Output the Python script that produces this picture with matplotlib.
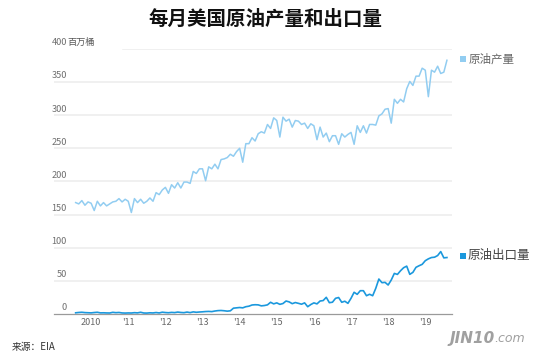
import matplotlib
matplotlib.use('Agg')
import matplotlib.pyplot as plt
from matplotlib.patches import Rectangle
import pandas as pd

plt.rcParams['font.family'] = ['Noto Sans CJK SC', 'DejaVu Sans']

# meses: ago 2009 - ago 2019 (millones de barriles por mes)
meses = pd.date_range('2009-08-01', periods=121, freq='MS')

produccion = [
    168, 166, 171, 164, 169,
    167, 156, 170, 163, 168, 163, 166, 169, 170, 174, 169, 173,
    170, 153, 174, 168, 173, 167, 170, 175, 170, 183, 180, 187,
    191, 182, 195, 190, 198, 190, 199, 199, 197, 215, 212, 219,
    219, 201, 222, 219, 226, 219, 233, 234, 236, 241, 238, 245,
    250, 229, 257, 257, 266, 261, 272, 275, 273, 286, 280, 296,
    292, 267, 297, 291, 294, 282, 292, 291, 286, 288, 280, 287,
    284, 263, 282, 267, 273, 260, 269, 269, 256, 272, 267, 271,
    274, 256, 284, 274, 284, 273, 286, 286, 285, 299, 302, 309,
    310, 288, 324, 318, 324, 320, 340, 351, 345, 359, 359, 371,
    368, 328, 368, 365, 374, 363, 365, 383,
]

exportacion = [
    1.5, 2.0, 2.3, 1.8, 1.6,
    1.4, 1.9, 2.3, 1.4, 1.5, 1.3, 1.2, 2.2, 1.7, 2.0, 1.3, 1.1,
    1.3, 1.2, 1.7, 1.4, 2.3, 1.2, 1.1, 1.5, 1.3, 1.9, 1.3, 2.4,
    1.9, 1.6, 2.1, 1.8, 2.6, 2.0, 1.7, 2.6, 1.8, 2.9, 2.3, 2.7,
    3.0, 3.4, 3.6, 3.3, 4.2, 4.8, 5.0, 4.6, 4.0, 4.5, 8.5, 9.0,
    9.5, 9.0, 10.7, 11.5, 13.3, 13.7, 13.5, 12.0, 12.5, 13.5, 17.4, 15.0,
    16.5, 14.3, 15.5, 19.3, 18.0, 15.3, 17.0, 15.8, 14.5, 16.5, 10.7, 14.0,
    16.5, 15.0, 19.3, 20.0, 24.9, 16.8, 17.5, 23.4, 24.6, 17.4, 19.0, 15.8,
    23.4, 32.5, 29.4, 34.9, 34.9, 27.3, 29.5, 27.3, 38.5, 52.5, 47.0, 47.5,
    43.5, 51.0, 61.0, 59.5, 65.0, 69.6, 72.0, 59.6, 62.6, 70.2, 72.6, 74.7,
    80.2, 83.0, 85.0, 85.5, 88.0, 94.0, 84.5, 85.0,
]

anios = list(range(2010, 2020))
etiquetas_x = ['2010', "'11", "'12", "'13", "'14", "'15", "'16", "'17", "'18", "'19"]
valores_y = [0, 50, 100, 150, 200, 250, 300, 350, 400]

color_prod = '#92cdf1'
color_exp = '#1b98dd'

# fecha -> año decimal
x = meses.year + (meses.month - 1) / 12.0

fig = plt.figure(figsize=(5.5, 3.59), dpi=100)
ax = fig.add_axes([54/550, 1 - 313.8/359, 398/550, (313.8 - 49)/359])

ax.set_xlim(2009.0, 2019.72)
ax.set_ylim(0, 400)

# lineas de la cuadricula
for v in valores_y[1:-1]:
    ax.axhline(v, color='#ececec', lw=1.1, zorder=0)
ax.axhline(400, xmin=0.173, color='#ececec', lw=1.1, zorder=0)

ax.plot(x, produccion, color=color_prod, lw=1.1, zorder=3)
ax.plot(x, exportacion, color=color_exp, lw=1.2, zorder=3)

for s in ['top', 'right', 'left']:
    ax.spines[s].set_visible(False)
ax.spines['bottom'].set_color('#9a9a9a')
ax.spines['bottom'].set_linewidth(0.9)

ax.set_yticks([])
ax.set_xticks(anios)
ax.set_xticklabels(etiquetas_x)
ax.tick_params(axis='x', length=0, pad=3, labelsize=6.5, labelcolor='#666666')

# etiquetas del eje y dentro del grafico
for v in valores_y:
    ax.annotate(str(v), xy=(0.032, v), xycoords=('axes fraction', 'data'),
                xytext=(0, 1.2), textcoords='offset points',
                ha='right', va='bottom', fontsize=6.6, color='#707070')
ax.annotate('百万桶', xy=(0.034, 400), xycoords=('axes fraction', 'data'),
            xytext=(0, 1.2), textcoords='offset points',
            ha='left', va='bottom', fontsize=6.6, color='#555555')

fig.text(265/550, 1 - 19/359, '每月美国原油产量和出口量', ha='center', va='center',
         fontsize=14, fontweight='bold', color='#111111')

# leyendas a la derecha
fig.add_artist(Rectangle((460/550, 1 - 62/359), 6/550, 6/359,
                         transform=fig.transFigure, color=color_prod, lw=0))
fig.text(469/550, 1 - 59/359, '原油产量', ha='left', va='center',
         fontsize=8.3, color='#666666')
fig.add_artist(Rectangle((460/550, 1 - 258.5/359), 6/550, 6/359,
                         transform=fig.transFigure, color=color_exp, lw=0))
fig.text(468/550, 1 - 255.5/359, '原油出口量', ha='left', va='center',
         fontsize=9, color='#444444')

fig.text(12/550, 1 - 347/359, '来源：EIA', ha='left', va='center',
         fontsize=7, color='#333333')

# marca de agua
fig.text(450/550, 1 - 338/359, 'JIN10', ha='left', va='center', fontsize=11,
         fontstyle='italic', fontweight='bold', color='#a0a0a0', family='DejaVu Sans')
fig.text(494/550, 1 - 339/359, '.com', ha='left', va='center', fontsize=9,
         fontstyle='italic', color='#a0a0a0', family='DejaVu Sans')

fig.savefig('out.png', dpi=100)
